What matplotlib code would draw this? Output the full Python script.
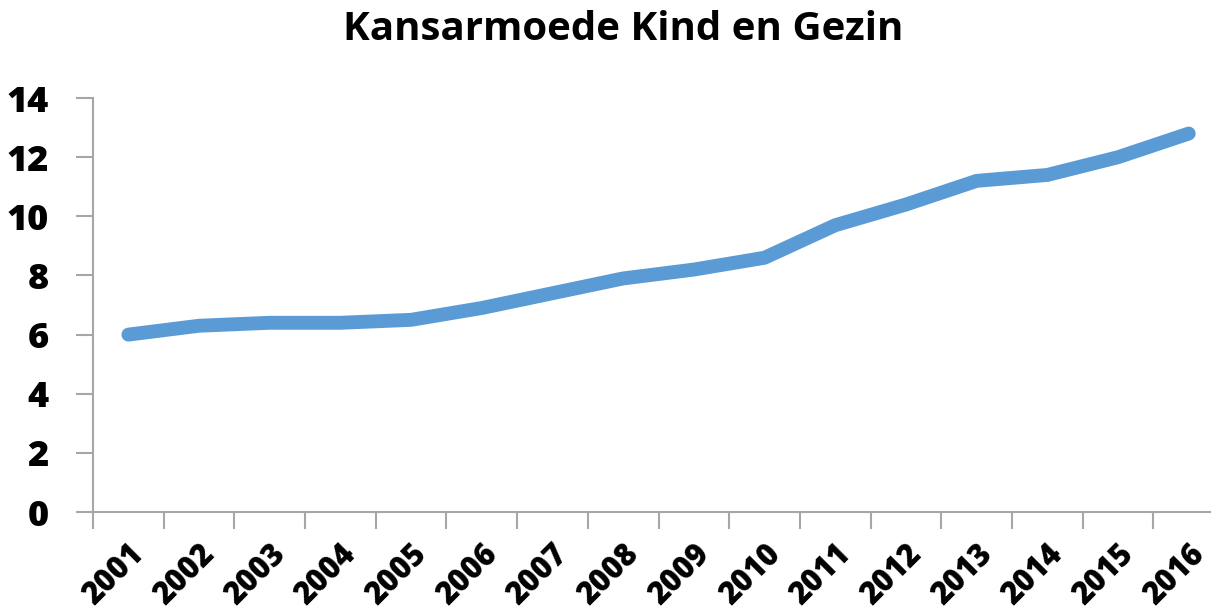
import matplotlib
matplotlib.use("Agg")
import matplotlib.pyplot as plt
import numpy as np

years = ["2001", "2002", "2003", "2004", "2005", "2006", "2007", "2008",
         "2009", "2010", "2011", "2012", "2013", "2014", "2015", "2016"]
values = [6.0, 6.3, 6.4, 6.4, 6.5, 6.9, 7.4, 7.9, 8.2, 8.6, 9.7, 10.4, 11.2, 11.4, 12.0, 12.8]
yticks = [0, 2, 4, 6, 8, 10, 12, 14]

plt.rcParams["font.family"] = ["Open Sans", "DejaVu Sans"]

fig = plt.figure(figsize=(12.11, 6.16), dpi=100)
ax = fig.add_axes([0.0768, 0.1688, 0.934, 0.672])

x = np.arange(len(years))
ax.plot(x, values, color="#5B9BD5", linewidth=10, solid_capstyle="round",
        solid_joinstyle="round")

ax.set_xlim(-0.5, len(years) - 0.5)
ax.set_ylim(0, 14)

# category boundaries carry the ticks
ax.set_xticks(np.arange(len(years) + 1) - 0.5)
ax.set_xticklabels([])
ax.set_xticks(x, minor=True)
ax.set_xticklabels(years, minor=True, rotation=45, ha="right", va="top",
                   rotation_mode="anchor", fontsize=22, fontweight="heavy")
ax.tick_params(axis="x", which="minor", length=0, pad=19)
ax.tick_params(axis="x", which="major", length=12, width=1.5, color="#A6A6A6")

ax.set_yticks(yticks)
ax.set_yticklabels([str(v) for v in yticks], fontsize=26, fontweight="heavy")
ax.tick_params(axis="y", length=12, width=1.5, color="#A6A6A6", pad=20)

for side in ["top", "right"]:
    ax.spines[side].set_visible(False)
for side in ["left", "bottom"]:
    ax.spines[side].set_color("#A6A6A6")
    ax.spines[side].set_linewidth(1.5)

fig.text(0.515, 0.952, "Kansarmoede Kind en Gezin", ha="center", va="center",
         fontsize=29, fontweight="bold")

fig.savefig("out.png", dpi=100)
